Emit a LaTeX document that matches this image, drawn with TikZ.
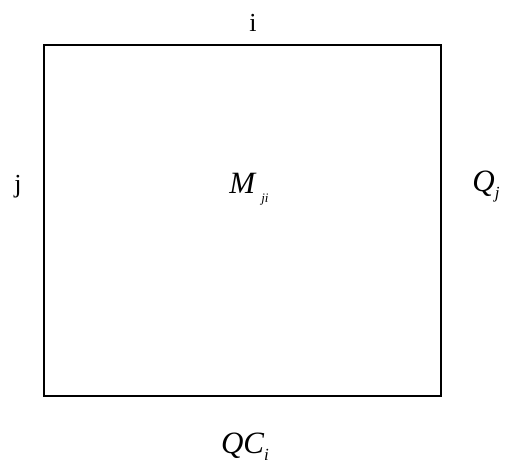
\documentclass[tikz,border=0pt]{standalone}
\usepackage{fontspec}
\setmainfont{Liberation Serif}
\usetikzlibrary{positioning}
\tikzset{lbl/.style={font=\fontsize{26}{30}\selectfont,inner sep=0pt},mlbl/.style={font=\fontsize{31}{35}\selectfont\itshape,inner sep=0pt},frame/.style={line width=2.4pt}}
\newcommand{\lowidx}[2]{\raisebox{#1}{\fontsize{17}{17}\selectfont #2}}

\begin{document}
\begin{tikzpicture}[x=1pt,y=1pt]
\useasboundingbox (0,0) rectangle (523,475);
\draw[frame] (44,79) rectangle (441,430);
\node[lbl] (coli) at (253,452){i};\node[lbl] (rowj) at (18,288){j};
\node[mlbl] (mji) at (249,286){M\hspace{6pt}\lowidx{-9pt}{\fontsize{13}{13}\selectfont ji}};
\node[mlbl] (qj) at (486,288){Q\lowidx{-7pt}{j}};
\node[mlbl] (qci) at (245,28){QC\lowidx{-7pt}{i}};
\end{tikzpicture}
\end{document}
